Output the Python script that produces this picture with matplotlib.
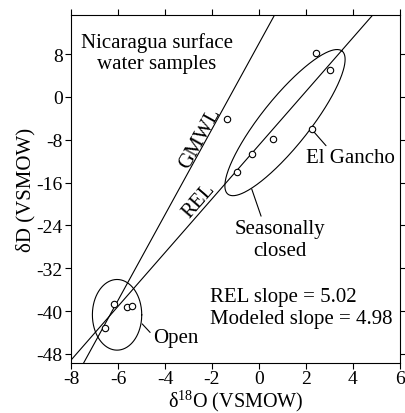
import numpy as np
import matplotlib
matplotlib.use("Agg")
import matplotlib.pyplot as plt

plt.rcParams['font.family'] = ['Liberation Serif', 'DejaVu Serif']
plt.rcParams['mathtext.fontset'] = 'custom'
plt.rcParams['mathtext.rm'] = 'Liberation Serif'
plt.rcParams['axes.unicode_minus'] = False

# surface water samples (d18O, dD)
closed_x = [2.41, 3.03, 0.61, 2.26, -0.28, -0.92]
closed_y = [8.2, 4.95, -7.9, -5.9, -10.57, -14.1]
other_x = [-1.35]
other_y = [-4.15]
open_x = [-6.16, -5.63, -5.39, -6.57]
open_y = [-38.75, -39.25, -39.1, -43.2]

gmwl_slope, gmwl_int = 8.0, 10.0
rel_slope, rel_int = 5.02, -9.0

xticks = [-8, -6, -4, -2, 0, 2, 4, 6]
yticks = [-48, -40, -32, -24, -16, -8, 0, 8]

fig = plt.figure(figsize=(4.05, 4.14), dpi=100)
ax = fig.add_axes([71 / 405, 50 / 414, 329 / 405, 348 / 414])
ax.set_xlim(-8, 6)
ax.set_ylim(-49.7, 15.3)

xx = np.array([-9, 7])
ax.plot(xx, gmwl_slope * xx + gmwl_int, color='k', lw=0.8)
ax.plot(xx, rel_slope * xx + rel_int, color='k', lw=0.8)

# ellipses drawn parametrically in data units
t = np.linspace(0, 2 * np.pi, 300)
cx, cy = 1.106, -4.80
ax.plot(cx + 2.43 * np.cos(t) + 0.80 * np.sin(t),
        cy + 13.36 * np.cos(t) - 2.80 * np.sin(t), color='k', lw=0.8)
ax.plot(-6.04 + 1.05 * np.cos(t), -40.7 + 6.6 * np.sin(t), color='k', lw=0.8)

mk = dict(ls='none', marker='o', ms=4.6, mfc='white', mec='k', mew=0.8, zorder=3)
ax.plot(closed_x, closed_y, **mk)
ax.plot(other_x, other_y, **mk)
ax.plot(open_x, open_y, **mk)

fs = 15
ax.text(-4.35, 8.3, 'Nicaragua surface\nwater samples', ha='center', va='center',
        fontsize=fs, linespacing=1.2)
ax.text(-2.5, -7.6, 'GMWL', rotation=61, ha='center', va='center', fontsize=fs)
ax.text(-2.55, -19.3, 'REL', rotation=48.8, ha='center', va='center', fontsize=fs)

ax.annotate('El Gancho', xy=(2.35, -6.6), xytext=(3.9, -11.4), ha='center', va='center',
            fontsize=fs, arrowprops=dict(arrowstyle='-', lw=0.8, color='k',
                                         shrinkA=0, shrinkB=0, relpos=(0.25, 1.0)))
ax.annotate('Seasonally\nclosed', xy=(-0.31, -17.2), xytext=(0.9, -26.6), ha='center',
            va='center', fontsize=fs, linespacing=1.2,
            arrowprops=dict(arrowstyle='-', lw=0.8, color='k', shrinkA=0, shrinkB=0,
                            relpos=(0.3, 1.0)))
ax.annotate('Open', xy=(-4.97, -42.4), xytext=(-3.55, -44.9), ha='center', va='center',
            fontsize=fs, arrowprops=dict(arrowstyle='-', lw=0.8, color='k',
                                         shrinkA=0, shrinkB=0, relpos=(0.0, 0.6)))
ax.text(-2.1, -39.4, 'REL slope = 5.02\nModeled slope = 4.98', ha='left', va='center',
        fontsize=fs, linespacing=1.2)

ax.set_xticks(xticks)
ax.set_yticks(yticks)
ax.tick_params(direction='out', length=4, width=0.8, labelsize=14, pad=2,
               top=True, right=True)
ax.tick_params(axis='x', pad=1)
for s in ax.spines.values():
    s.set_linewidth(0.8)

ax.set_xlabel(r'δ$^{18}$O (VSMOW)', fontsize=14.5, labelpad=0)
ax.set_ylabel('δD (VSMOW)', fontsize=15, labelpad=1)

fig.savefig('out.png', dpi=100)
